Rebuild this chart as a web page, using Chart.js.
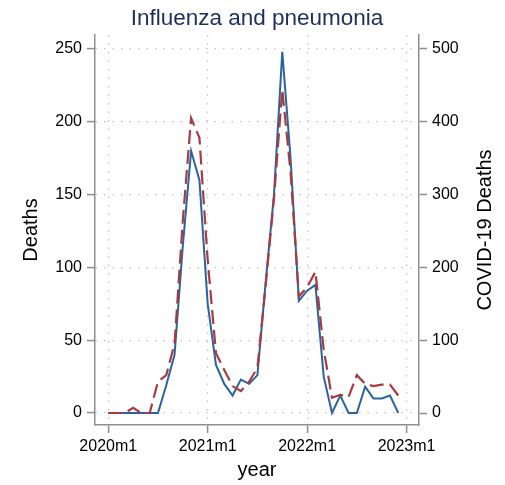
<!DOCTYPE html>
<html>
<head>
<meta charset="utf-8">
<script src="https://cdn.jsdelivr.net/npm/chart.js@4.4.0/dist/chart.umd.min.js"></script>
<style>
  body { margin: 0; background: #fff; }
</style>
</head>
<body>
<canvas id="myChart" width="505" height="485"></canvas>
<script>
const FONT = '"Liberation Sans", Arial, Helvetica, sans-serif';
const BLUE = '#2a64a0';
const RED = '#a83a42';
const AXIS = '#8f8f8f';
const GRID = '#c4c4c4';

// monthly, 2020m1 .. 2022m12
const months = ['2020m1','2020m2','2020m3','2020m4','2020m5','2020m6','2020m7','2020m8','2020m9','2020m10','2020m11','2020m12',
                '2021m1','2021m2','2021m3','2021m4','2021m5','2021m6','2021m7','2021m8','2021m9','2021m10','2021m11','2021m12',
                '2022m1','2022m2','2022m3','2022m4','2022m5','2022m6','2022m7','2022m8','2022m9','2022m10','2022m11','2022m12'];
// influenza and pneumonia deaths (left axis)
const fluDeaths = [0,0,0,0,0,0,0,19,40,115,180,160,
                   75,33,20,12,23,20,26,90,150,248,175,77,
                   84,88,25,0,12,0,0,18,10,10,12,0];
// COVID-19 deaths (right axis)
const covidDeaths = [0,0,0,7,0,0,43,52,95,265,405,378,
                     210,82,59,37,30,43,62,176,295,444,331,160,
                     173,194,87,21,25,22,52,40,37,39,39,24];

const xTickPos = [0, 12, 24, 36];
const xTickLabels = ['2020m1', '2021m1', '2022m1', '2023m1'];
const leftTicks = [0, 50, 100, 150, 200, 250];
const rightTicks = [0, 100, 200, 300, 400, 500];
const rightTitle = 'COVID-19 Deaths';

function toPoints(values) {
    return values.map((v, i) => ({x: i, y: v}));
}

// right axis title reads bottom-to-top, like the left one
const rightTitlePlugin = {
    id: 'rightTitle',
    afterDraw(chart) {
        const s = chart.scales.y2;
        const ctx = chart.ctx;
        ctx.save();
        ctx.translate(s.right - 20, (s.top + s.bottom) / 2);
        ctx.rotate(-Math.PI / 2);
        ctx.font = '20px ' + FONT;
        ctx.fillStyle = '#000';
        ctx.textAlign = 'center';
        ctx.textBaseline = 'middle';
        ctx.fillText(rightTitle, 0, 0);
        ctx.restore();
    }
};

const myChart = new Chart("myChart", {
    type: 'line',
    plugins: [rightTitlePlugin],
    data: {
        datasets: [{
            label: 'COVID-19 Deaths',
            data: toPoints(covidDeaths),
            yAxisID: 'y2',
            borderColor: RED,
            borderWidth: 2.2,
            borderDash: [14, 6],
            pointRadius: 0,
            tension: 0,
        }, {
            label: 'Deaths',
            data: toPoints(fluDeaths),
            yAxisID: 'y',
            borderColor: BLUE,
            borderWidth: 2,
            pointRadius: 0,
            tension: 0,
        }]
    },
    options: {
        responsive: false,
        animation: false,
        layout: { padding: 0 },
        plugins: {
            legend: { display: false },
            tooltip: { enabled: false },
            title: {
                display: true,
                fullSize: false,
                text: 'Influenza and pneumonia',
                color: '#1e2f5a',
                font: { family: FONT, size: 22.5, weight: 'normal' },
                padding: { top: 5.5, bottom: 2.5 }
            }
        },
        scales: {
            x: {
                type: 'linear',
                min: -1.6,
                max: 37.5,
                afterBuildTicks: s => { s.ticks = xTickPos.map(v => ({value: v})); },
                afterFit: s => { s.height = 60; },
                ticks: {
                    callback: v => xTickLabels[xTickPos.indexOf(v)],
                    color: '#000',
                    font: { family: FONT, size: 16 },
                    padding: 4,
                    maxRotation: 0,
                    autoSkip: false
                },
                grid: { color: GRID, lineWidth: 1.2, tickColor: AXIS, tickLength: 8, tickWidth: 1.5 },
                border: { color: AXIS, width: 1.5, dash: [1.5, 7] },
                title: {
                    display: true, text: 'year', color: '#000',
                    font: { family: FONT, size: 20 },
                    padding: { top: 0, bottom: 3 }
                }
            },
            y: {
                position: 'left',
                min: -8.24,
                max: 259.6,
                afterBuildTicks: s => { s.ticks = leftTicks.map(v => ({value: v})); },
                afterFit: s => { s.width = 95; },
                ticks: { color: '#000', font: { family: FONT, size: 16 }, padding: 5 },
                grid: { color: GRID, lineWidth: 1.2, tickColor: AXIS, tickLength: 8, tickWidth: 1.5 },
                border: { color: AXIS, width: 1.5, dash: [1.5, 7] },
                title: {
                    display: true, text: 'Deaths', color: '#000',
                    font: { family: FONT, size: 20 },
                    padding: { top: 19, bottom: 0 }
                }
            },
            y2: {
                position: 'right',
                min: -16.48,
                max: 519.2,
                afterBuildTicks: s => { s.ticks = rightTicks.map(v => ({value: v})); },
                afterFit: s => { s.width = 86; },
                ticks: { color: '#000', font: { family: FONT, size: 16 }, padding: 5 },
                grid: { drawOnChartArea: false, tickColor: AXIS, tickLength: 8, tickWidth: 1.5 },
                border: { color: AXIS, width: 1.5 },
                title: { display: false }
            }
        }
    }
});
</script>
</body>
</html>
